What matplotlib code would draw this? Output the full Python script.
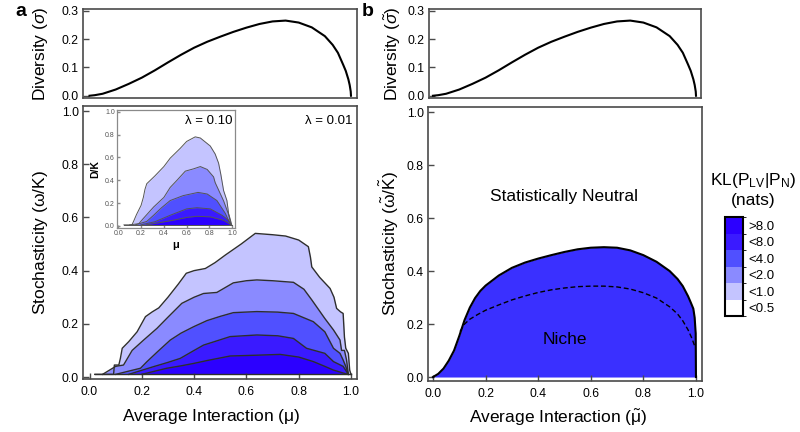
import matplotlib
matplotlib.use('Agg')
import matplotlib.pyplot as plt
from matplotlib.colors import ListedColormap, BoundaryNorm
from matplotlib.cm import ScalarMappable

plt.rcParams['font.family'] = ['Liberation Sans', 'DejaVu Sans']
plt.rcParams['mathtext.fontset'] = 'custom'
plt.rcParams['mathtext.rm'] = 'Liberation Sans'
plt.rcParams['mathtext.it'] = 'Liberation Sans:italic'
plt.rcParams['mathtext.bf'] = 'Liberation Sans:bold'

# ---------------- data ----------------
div_mu = [0.0, 0.02, 0.05, 0.10, 0.15, 0.20, 0.25, 0.30, 0.35, 0.40, 0.45, 0.50, 0.55, 0.60,
          0.65, 0.70, 0.75, 0.80, 0.85, 0.90, 0.93, 0.95, 0.97, 0.98, 0.99, 0.995, 0.999, 1.0]
div_sigma = [0.0, 0.002, 0.007, 0.022, 0.042, 0.064, 0.090, 0.118, 0.145, 0.170, 0.191, 0.209,
             0.226, 0.241, 0.254, 0.263, 0.266, 0.259, 0.242, 0.211, 0.180, 0.152, 0.110, 0.088,
             0.058, 0.038, 0.015, 0.0]

base_omega = 0.01

a_l1_mu = [0.02, 0.092, 0.095, 0.112, 0.118, 0.125, 0.15, 0.182, 0.214, 0.24, 0.265, 0.30, 0.34,
           0.37, 0.40, 0.443, 0.48, 0.52, 0.58, 0.634, 0.70, 0.75, 0.80, 0.837, 0.845, 0.85, 0.88,
           0.92, 0.935, 0.945, 0.96, 0.97, 0.975, 0.98, 0.99, 0.995, 1.0]
a_l1_om = [0.01, 0.01, 0.045, 0.045, 0.07, 0.108, 0.133, 0.17, 0.227, 0.245, 0.26, 0.30, 0.35,
           0.39, 0.40, 0.408, 0.43, 0.459, 0.50, 0.54, 0.535, 0.53, 0.515, 0.49, 0.45, 0.414, 0.375,
           0.333, 0.30, 0.258, 0.245, 0.239, 0.15, 0.108, 0.089, 0.026, 0.01]
a_l2_mu = [0.05, 0.10, 0.13, 0.163, 0.207, 0.258, 0.30, 0.353, 0.40, 0.436, 0.487, 0.55, 0.60,
           0.64, 0.70, 0.78, 0.82, 0.85, 0.90, 0.933, 0.958, 0.964, 0.975, 0.983, 0.99]
a_l2_om = [0.01, 0.04, 0.045, 0.10, 0.139, 0.183, 0.225, 0.277, 0.30, 0.314, 0.318, 0.354, 0.362,
           0.365, 0.362, 0.356, 0.33, 0.29, 0.22, 0.177, 0.139, 0.10, 0.10, 0.064, 0.01]
a_l3_mu = [0.10, 0.195, 0.22, 0.26, 0.309, 0.35, 0.398, 0.449, 0.50, 0.55, 0.64, 0.72, 0.78,
           0.856, 0.90, 0.933, 0.958, 0.97, 0.98, 0.99]
a_l3_om = [0.01, 0.033, 0.058, 0.095, 0.139, 0.165, 0.189, 0.212, 0.228, 0.242, 0.246, 0.244,
           0.239, 0.208, 0.17, 0.108, 0.089, 0.064, 0.04, 0.01]
a_l4_mu = [0.15, 0.245, 0.30, 0.347, 0.40, 0.436, 0.50, 0.538, 0.64, 0.72, 0.78, 0.83, 0.90,
           0.933, 0.97, 0.99]
a_l4_om = [0.01, 0.039, 0.055, 0.07, 0.10, 0.12, 0.14, 0.152, 0.158, 0.155, 0.145, 0.108, 0.089,
           0.058, 0.04, 0.01]
a_l5_mu = [0.20, 0.296, 0.35, 0.398, 0.45, 0.538, 0.64, 0.729, 0.80, 0.856, 0.90, 0.933, 0.97, 0.99]
a_l5_om = [0.01, 0.033, 0.042, 0.051, 0.062, 0.079, 0.082, 0.085, 0.075, 0.058, 0.04, 0.026,
           0.015, 0.01]

in_l1_mu = [0.05, 0.12, 0.134, 0.16, 0.20, 0.22, 0.234, 0.25, 0.32, 0.40, 0.456, 0.544, 0.60,
            0.675, 0.72, 0.807, 0.85, 0.88, 0.90, 0.924, 0.953, 0.968, 0.982, 0.995]
in_l1_om = [0.01, 0.01, 0.04, 0.10, 0.18, 0.25, 0.32, 0.37, 0.437, 0.52, 0.594, 0.68, 0.74,
            0.78, 0.77, 0.70, 0.63, 0.55, 0.45, 0.31, 0.223, 0.109, 0.06, 0.01]
in_l2_mu = [0.10, 0.18, 0.22, 0.31, 0.40, 0.456, 0.515, 0.588, 0.66, 0.72, 0.78, 0.836, 0.85,
            0.924, 0.968, 0.99]
in_l2_om = [0.01, 0.02, 0.066, 0.166, 0.25, 0.338, 0.40, 0.48, 0.50, 0.52, 0.495, 0.43, 0.38,
            0.22, 0.10, 0.01]
in_l3_mu = [0.15, 0.25, 0.31, 0.38, 0.456, 0.57, 0.70, 0.78, 0.865, 0.94, 0.98]
in_l3_om = [0.01, 0.04, 0.094, 0.16, 0.223, 0.266, 0.294, 0.28, 0.223, 0.109, 0.02]
in_l4_mu = [0.20, 0.32, 0.456, 0.60, 0.69, 0.807, 0.91, 0.968, 0.99]
in_l4_om = [0.01, 0.037, 0.094, 0.15, 0.16, 0.15, 0.094, 0.05, 0.01]
in_l5_mu = [0.25, 0.48, 0.60, 0.69, 0.807, 0.924, 0.99]
in_l5_om = [0.01, 0.05, 0.075, 0.085, 0.08, 0.05, 0.01]

b_niche_mu = [0.0, 0.02, 0.04, 0.06, 0.08, 0.10, 0.12, 0.14, 0.16, 0.18, 0.20, 0.25, 0.30, 0.35,
              0.40, 0.45, 0.50, 0.55, 0.60, 0.65, 0.70, 0.75, 0.80, 0.85, 0.90, 0.93, 0.95, 0.97,
              0.98, 0.99, 0.995, 0.999, 1.0]
b_niche_om = [0.0, 0.012, 0.032, 0.062, 0.10, 0.155, 0.215, 0.262, 0.298, 0.325, 0.345, 0.383,
              0.412, 0.432, 0.447, 0.460, 0.472, 0.482, 0.488, 0.490, 0.488, 0.478, 0.460, 0.435,
              0.400, 0.370, 0.343, 0.305, 0.282, 0.258, 0.225, 0.165, 0.0]
b_dash_mu = [0.103, 0.12, 0.14, 0.17, 0.20, 0.25, 0.30, 0.35, 0.40, 0.45, 0.50, 0.55, 0.60, 0.65,
             0.70, 0.75, 0.80, 0.85, 0.90, 0.93, 0.95, 0.97, 0.985, 0.997]
b_dash_om = [0.172, 0.20, 0.218, 0.236, 0.252, 0.272, 0.291, 0.306, 0.319, 0.329, 0.336, 0.341,
             0.343, 0.343, 0.340, 0.332, 0.318, 0.298, 0.265, 0.238, 0.212, 0.178, 0.145, 0.112]

kl_labels = ['<0.5', '<1.0', '<2.0', '<4.0', '<8.0', '>8.0']
kl_colors = ['#ffffff', '#c4c4ff', '#8a8aff', '#5050ff', '#3a1aff', '#2c00ff']

diversity_ticks = [0.0, 0.1, 0.2, 0.3]
unit_ticks = [0.0, 0.2, 0.4, 0.6, 0.8, 1.0]

# ---------------- layout ----------------
W, H = 800, 432
fig = plt.figure(figsize=(8, 4.32), dpi=100)


def box(l, t, r, b):
    return [l / W, 1 - b / H, (r - l) / W, (b - t) / H]


SPINE = '#4a4a4a'


def style(ax, fs=8.8, pad=3, lw=1.2, color=SPINE, length=4):
    for s in ax.spines.values():
        s.set_color(color)
        s.set_linewidth(lw)
    ax.tick_params(direction='in', length=length, width=1, color=color, labelsize=fs, pad=pad)


def fmt(v):
    return '%.1f' % v


# ----- panel a top -----
axat = fig.add_axes(box(83, 9, 357, 98))
axat.plot(div_mu, div_sigma, color='black', lw=1.5)
axat.set_xlim(-0.025, 1.023)
axat.set_ylim(-0.008, 0.307)
axat.set_xticks([])
axat.set_yticks(diversity_ticks)
axat.set_yticklabels([fmt(v) for v in diversity_ticks])
style(axat)
axat.set_ylabel(r'Diversity ($\sigma$)', fontsize=12.5)
axat.yaxis.set_label_coords(-0.12, 0.5)

# ----- panel a bottom -----
axa = fig.add_axes(box(83, 106, 357, 379))
levels_a = [(a_l1_mu, a_l1_om), (a_l2_mu, a_l2_om), (a_l3_mu, a_l3_om),
            (a_l4_mu, a_l4_om), (a_l5_mu, a_l5_om)]
for (m, o), c in zip(levels_a, kl_colors[1:]):
    axa.fill_between(m, base_omega, o, color=c, lw=0)
for m, o in levels_a:
    axa.plot(m, o, color='#2e2e2e', lw=1.0)
axa.plot([a_l1_mu[0], a_l1_mu[-1]], [base_omega, base_omega], color='#2e2e2e', lw=1.0)
axa.set_xlim(-0.025, 1.023)
axa.set_ylim(-0.0075, 1.019)
axa.set_xticks(unit_ticks)
axa.set_xticklabels([fmt(v) for v in unit_ticks])
axa.set_yticks(unit_ticks)
axa.set_yticklabels([fmt(v) for v in unit_ticks])
style(axa)
axa.tick_params(axis='x', pad=5)
axa.set_ylabel(r'Stochasticity ($\mathrm{\omega}$/K)', fontsize=12.5)
axa.yaxis.set_label_coords(-0.12, 0.5)
axa.set_xlabel(r'Average Interaction ($\mathrm{\mu}$)', fontsize=12.5)
axa.xaxis.set_label_coords(0.467, -0.103)
axa.text(0.982, 0.945, 'λ = 0.01', transform=axa.transAxes, ha='right', va='center', fontsize=9.5)

# ----- inset -----
axi = fig.add_axes(box(117, 110, 235, 228))
axi.set_facecolor('white')
levels_i = [(in_l1_mu, in_l1_om), (in_l2_mu, in_l2_om), (in_l3_mu, in_l3_om),
            (in_l4_mu, in_l4_om), (in_l5_mu, in_l5_om)]
for (m, o), c in zip(levels_i, kl_colors[1:]):
    axi.fill_between(m, base_omega, o, color=c, lw=0)
for m, o in levels_i:
    axi.plot(m, o, color='#555555', lw=0.7)
axi.plot([in_l1_mu[0], in_l1_mu[-1]], [base_omega, base_omega], color='#555555', lw=0.7)
axi.set_xlim(-0.011, 1.024)
axi.set_ylim(-0.0175, 1.015)
axi.set_xticks(unit_ticks)
axi.set_xticklabels([fmt(v) for v in unit_ticks])
axi.set_yticks(unit_ticks)
axi.set_yticklabels([fmt(v) for v in unit_ticks])
style(axi, fs=5, pad=1.5, lw=0.9, color='#8a8a8a', length=2)
axi.tick_params(labelcolor='#555555')
axi.set_ylabel('D/K', fontsize=7.5, fontweight='bold')
axi.yaxis.set_label_coords(-0.14, 0.5)
axi.set_xlabel(r'$\mathbf{\mu}$', fontsize=8)
axi.xaxis.set_label_coords(0.5, -0.1)
axi.text(0.975, 0.907, 'λ = 0.10', transform=axi.transAxes, ha='right', va='center', fontsize=9.5)

# ----- panel b top -----
axbt = fig.add_axes(box(429, 9, 701, 98))
axbt.plot(div_mu, div_sigma, color='black', lw=1.5)
axbt.set_xlim(-0.015, 1.019)
axbt.set_ylim(-0.008, 0.307)
axbt.set_xticks([])
axbt.set_yticks(diversity_ticks)
axbt.set_yticklabels([fmt(v) for v in diversity_ticks])
style(axbt)
axbt.set_ylabel(r'Diversity ($\tilde{\sigma}$)', fontsize=12.5)
axbt.yaxis.set_label_coords(-0.096, 0.5)

# ----- panel b bottom -----
axb = fig.add_axes(box(428, 107, 702, 381))
axb.fill_between(b_niche_mu, 0, b_niche_om, color='#3a30ff', lw=0)
axb.plot(b_niche_mu, b_niche_om, color='black', lw=1.5)
axb.plot(b_dash_mu, b_dash_om, color='black', lw=1.0, ls=(0, (3.5, 2)))
axb.set_xlim(-0.019, 1.023)
axb.set_ylim(-0.015, 1.019)
axb.set_xticks(unit_ticks)
axb.set_xticklabels([fmt(v) for v in unit_ticks])
axb.set_yticks(unit_ticks)
axb.set_yticklabels([fmt(v) for v in unit_ticks])
style(axb)
axb.tick_params(axis='x', pad=5)
axb.set_ylabel(r'Stochasticity ($\tilde{\mathrm{\omega}}$/$\tilde{\mathrm{K}}$)', fontsize=12.5)
axb.yaxis.set_label_coords(-0.099, 0.5)
axb.set_xlabel(r'Average Interaction ($\tilde{\mathrm{\mu}}$)', fontsize=12.5)
axb.xaxis.set_label_coords(0.474, -0.098)
axb.text(0.5, 0.683, 'Statistically Neutral', transform=axb.transData, ha='center', va='center',
         fontsize=12.5)
axb.text(0.5, 0.14, 'Niche', transform=axb.transData, ha='center', va='center', fontsize=12.5)

# ----- colour legend -----
cax = fig.add_axes(box(725, 217, 743, 316))
cmap = ListedColormap(kl_colors)
norm = BoundaryNorm(list(range(len(kl_colors) + 1)), cmap.N)
cb = fig.colorbar(ScalarMappable(norm=norm, cmap=cmap), cax=cax,
                  ticks=[i + 0.5 for i in range(len(kl_labels))])
cb.ax.set_yticklabels(kl_labels)
cb.ax.tick_params(length=0, labelsize=9.5, pad=4)
cb.outline.set_edgecolor('black')
cb.outline.set_linewidth(1.5)
fig.text(753 / W, 1 - 181 / H, r'KL(P$_{\mathrm{LV}}$|P$_{\mathrm{N}}$)', ha='center', va='center',
         fontsize=12.5)
fig.text(753 / W, 1 - 201 / H, '(nats)', ha='center', va='center', fontsize=12.5)

# panel letters
fig.text(15 / W, 1 - 12 / H, 'a', fontsize=14, fontweight='bold', ha='left', va='center')
fig.text(362 / W, 1 - 12 / H, 'b', fontsize=14, fontweight='bold', ha='left', va='center')

fig.savefig('out.png', dpi=100)
